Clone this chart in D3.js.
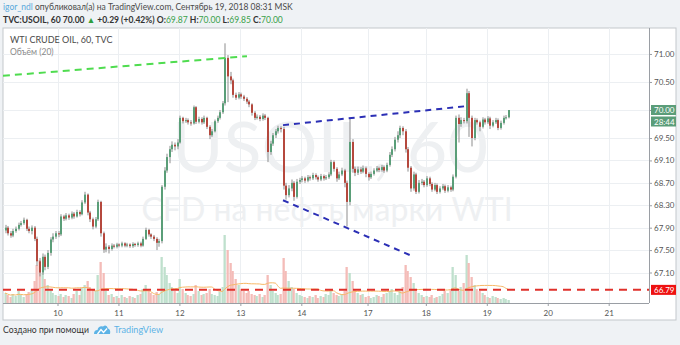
<!DOCTYPE html>
<html><head><meta charset="utf-8">
<script src="https://cdn.jsdelivr.net/npm/d3@7"></script>
<style>
html,body{margin:0;padding:0;background:#eff2f5;}
svg{display:block;font-family:Lato,"Open Sans",sans-serif;}
</style></head><body>
<svg id="c" width="680" height="345"></svg>
<script>
// ---------- data ----------
const dayLabels = ["10","11","12","13","14","17","18","19","20","21"];
const dayIndex  = [20,43,66,89,112,137,159,182,205,228];
const priceTicks = [71.00,70.50,70.00,69.50,69.10,68.70,68.30,67.90,67.50,67.10];
const priceTickLabels = ["71.00","70.50","","69.50","69.10","68.70","68.30","67.90","67.50","67.10"];

const close = [67.90,67.80,67.76,67.84,67.88,67.95,67.98,68.04,67.88,67.84,
67.90,67.70,67.30,67.10,67.38,67.20,67.45,67.69,67.74,67.80,
67.78,68.10,68.06,68.12,68.08,68.15,68.10,68.18,68.14,68.35,
68.49,68.17,68.05,67.92,68.05,68.36,67.80,67.51,67.56,67.52,
67.58,67.56,67.60,67.58,67.62,67.58,67.60,67.57,67.61,67.59,
67.62,67.58,67.70,67.86,67.78,67.74,67.70,67.63,67.66,68.63,
68.92,69.16,69.30,69.38,69.35,69.42,69.86,69.80,69.82,69.78,
69.76,70.05,69.79,69.84,69.78,69.86,69.70,69.55,69.62,69.80,
69.86,69.96,70.12,70.93,70.60,70.53,70.27,70.22,70.28,70.24,
70.20,70.15,70.10,69.95,69.86,69.88,69.84,69.90,69.86,69.25,
69.40,69.55,69.62,69.68,69.66,68.65,68.48,68.60,68.70,68.45,
68.72,68.75,68.78,68.74,68.80,68.78,68.84,68.80,68.76,68.82,
68.78,68.80,68.85,69.07,68.95,68.78,68.85,68.92,68.70,68.36,
69.43,68.95,68.88,68.94,68.90,68.96,68.86,68.80,68.86,68.92,
68.96,68.93,68.98,68.92,69.02,69.20,69.30,69.47,69.55,69.68,
69.62,69.30,68.97,68.60,68.85,68.54,68.70,68.72,68.66,68.78,
68.68,68.58,68.66,68.54,68.60,68.64,68.56,68.62,68.58,68.81,
69.86,69.75,69.82,69.80,70.30,69.86,69.50,69.82,69.78,69.70,
69.83,69.78,69.85,69.72,69.78,69.82,69.68,69.77,69.86,69.87,
70.00];

const open = [67.85,67.90,67.80,67.76,67.84,67.88,67.95,67.98,68.04,67.88,
67.84,67.90,67.70,67.30,67.10,67.38,67.20,67.45,67.69,67.74,
67.80,67.78,68.10,68.06,68.12,68.08,68.15,68.10,68.18,68.14,
68.35,68.49,68.17,68.05,67.92,68.05,68.36,67.80,67.51,67.56,
67.52,67.58,67.56,67.60,67.58,67.62,67.58,67.60,67.57,67.61,
67.59,67.62,67.58,67.70,67.86,67.78,67.74,67.70,67.63,67.66,
68.63,68.92,69.16,69.30,69.38,69.35,69.42,69.86,69.80,69.82,
69.78,69.76,70.05,69.79,69.84,69.78,69.86,69.70,69.55,69.62,
69.80,69.86,69.96,70.12,70.93,70.60,70.53,70.27,70.22,70.28,
70.24,70.20,70.15,70.10,69.95,69.86,69.88,69.84,69.90,69.86,
69.25,69.40,69.55,69.62,69.68,69.66,68.65,68.48,68.60,68.70,
68.45,68.72,68.75,68.78,68.74,68.80,68.78,68.84,68.80,68.76,
68.82,68.78,68.80,68.85,69.07,68.95,68.78,68.85,68.92,68.70,
68.36,69.43,68.95,68.88,68.94,68.90,68.96,68.86,68.80,68.86,
68.92,68.96,68.93,68.98,68.92,69.02,69.20,69.30,69.47,69.55,
69.68,69.62,69.30,68.97,68.60,68.85,68.54,68.70,68.72,68.66,
68.78,68.68,68.58,68.66,68.54,68.60,68.64,68.56,68.62,68.58,
68.81,69.86,69.75,69.82,69.80,70.30,69.86,69.50,69.82,69.78,
69.70,69.83,69.78,69.85,69.72,69.78,69.82,69.68,69.77,69.86,
69.87];

const high = [67.95,67.93,67.84,67.88,67.92,67.99,68.02,68.08,68.06,67.92,
67.94,67.93,67.74,67.36,67.44,67.42,67.50,67.73,67.80,67.84,
67.84,68.14,68.13,68.16,68.15,68.19,68.18,68.22,68.21,68.39,
68.54,68.51,68.20,68.08,68.09,68.40,68.38,67.83,67.62,67.59,
67.62,67.61,67.63,67.62,67.65,67.64,67.63,67.62,67.64,67.63,
67.65,67.65,67.74,67.90,67.88,67.80,67.77,67.73,67.70,68.66,
68.98,69.22,69.36,69.44,69.42,69.48,69.90,69.88,69.86,69.85,
69.82,70.08,70.07,69.88,69.87,69.90,69.88,69.73,69.66,69.83,
69.90,70.00,70.16,71.19,70.98,70.68,70.56,70.31,70.32,70.31,
70.27,70.23,70.18,70.12,69.98,69.92,69.91,69.94,69.93,69.88,
69.45,69.59,69.66,69.72,69.71,69.70,68.70,68.66,68.76,68.73,
68.77,68.79,68.82,68.81,68.84,68.83,68.88,68.87,68.83,68.86,
68.85,68.84,68.89,69.11,69.10,68.98,68.90,68.97,68.95,68.74,
69.86,69.48,68.99,68.99,68.98,69.01,68.99,68.89,68.90,68.96,
69.00,68.99,69.02,69.01,69.06,69.25,69.35,69.52,69.62,69.72,
69.71,69.66,69.34,69.00,68.90,68.88,68.75,68.77,68.75,68.82,
68.81,68.71,68.70,68.69,68.64,68.68,68.67,68.66,68.65,68.85,
69.90,69.92,69.87,69.86,70.38,70.34,69.90,69.86,69.85,69.81,
69.87,69.86,69.89,69.88,69.82,69.86,69.85,69.81,69.90,69.91,
70.00];

const low = [67.80,67.76,67.72,67.73,67.81,67.85,67.92,67.95,67.84,67.80,
67.78,67.66,67.22,67.03,67.06,67.14,67.16,67.40,67.64,67.70,
67.73,67.75,68.02,68.03,68.04,68.05,68.06,68.08,68.10,68.12,
68.32,68.12,68.00,67.87,67.89,68.02,67.74,67.45,67.46,67.44,
67.49,67.53,67.53,67.55,67.55,67.55,67.55,67.54,67.54,67.56,
67.56,67.55,67.56,67.68,67.74,67.70,67.66,67.50,67.56,67.62,
68.58,68.88,69.05,69.25,69.28,69.30,69.40,69.76,69.77,69.74,
69.72,69.74,69.75,69.76,69.74,69.75,69.66,69.48,69.52,69.60,
69.77,69.83,69.93,70.08,70.14,70.46,70.22,70.18,70.19,70.20,
70.16,70.11,70.05,69.90,69.82,69.83,69.80,69.81,69.82,69.07,
69.20,69.36,69.50,69.58,69.60,68.58,68.40,68.44,68.55,68.38,
68.42,68.68,68.71,68.70,68.71,68.74,68.75,68.76,68.72,68.73,
68.74,68.75,68.77,68.82,68.90,68.72,68.75,68.82,68.62,67.92,
68.30,68.88,68.82,68.84,68.86,68.87,68.80,68.74,68.77,68.83,
68.89,68.89,68.90,68.88,68.89,68.99,69.16,69.26,69.42,69.50,
69.55,69.24,68.90,68.54,68.56,68.50,68.51,68.66,68.62,68.63,
68.64,68.54,68.55,68.50,68.51,68.57,68.52,68.53,68.54,68.55,
68.78,69.42,69.70,69.76,69.76,69.52,69.35,69.46,69.74,69.62,
69.67,69.74,69.75,69.66,69.69,69.75,69.64,69.65,69.74,69.83,
69.85];

const volume = [10,8,6,9,7,12,8,6,9,11,14,22,
38,43,30,24,18,14,
10,8,7,9,6,8,7,5,9,12,8,15,18,
22,16,14,12,28,41,30,
12,8,9,6,7,5,8,6,5,7,6,5,8,
9,14,18,12,10,8,11,9,
46,36,28,20,16,12,10,24,
14,10,8,7,9,18,12,8,9,10,14,9,8,7,11,16,
68,53,40,32,24,18,14,12,
10,12,9,8,7,9,6,8,
28,18,12,10,8,9,
45,32,22,16,14,10,8,7,
6,5,7,6,8,5,7,6,9,8,14,10,8,7,9,12,
36,30,22,14,10,8,9,
6,7,5,6,8,7,6,9,10,12,14,10,8,12,16,
38,32,26,20,14,10,8,6,
7,6,8,5,6,7,9,12,10,14,
36,28,12,16,20,48,40,26,
18,14,12,10,8,6,5,7,6,5,4,5,4,3];

const supportLevel = 66.79;
const greenLine = [[-0.6,70.61],[91.5,70.96]];
const blueUpper = [[105.1,69.73],[174.5,70.07]];
const blueLower = [[105.1,68.39],[153.0,67.41]];
const lastPrice = 70.00;
const countdown = "28:44";

// ---------- layout ----------
const svg = d3.select("#c");
const P = {left:3, top:28, right:649, bottom:303, panelRight:676, panelBottom:320};

const x = d3.scaleLinear().domain([0,240]).range([4.5, 4.5+240*2.65]);
const y = d3.scaleLinear().domain([67.10,70.00]).range([272.5,110]);
const vy = d3.scaleLinear().domain([0,68]).range([P.bottom, P.bottom-68]);

function fit(sel, target){
  const fs = parseFloat(sel.attr("font-size"));
  const w = sel.node().getComputedTextLength();
  if (w > 0) sel.attr("font-size", (fs*target/w).toFixed(2));
  return sel;
}

// header
const t1 = svg.append("text").attr("x",3).attr("y",10).attr("font-size",9).attr("fill","#4a4a4a");
t1.append("tspan").attr("fill","#5aa9dc").text("igor_ndl");
t1.append("tspan").text(" опубликовал(а) на TradingView.com, Сентябрь 19, 2018 08:31 MSK");
fit(t1, 290);
const t2 = svg.append("text").attr("x",3).attr("y",23).attr("font-size",9).attr("fill","#333").attr("font-weight",700);
t2.append("tspan").text("TVC:USOIL, 60 ");
t2.append("tspan").text("70.00 ");
t2.append("tspan").attr("fill","#2e9e3c").text("▲");
t2.append("tspan").text(" +0.29 (+0.42%) ");
const ohlc = [["O:","69.87"],[" H:","70.00"],[" L:","69.85"],[" C:","70.00"]];
ohlc.forEach(([k,v])=>{
  t2.append("tspan").text(k);
  t2.append("tspan").attr("font-weight",400).attr("fill","#3aa14a").text(v);
});
fit(t2, 280);

// panel
svg.append("rect").attr("x",P.left).attr("y",P.top).attr("width",P.panelRight-P.left).attr("height",P.panelBottom-P.top)
  .attr("fill","#fff").attr("stroke","#c3c7cc");

// grid
const grid = svg.append("g");
grid.selectAll("line.h").data(priceTicks).join("line")
  .attr("x1",P.left).attr("x2",P.right)
  .attr("y1",d=>Math.round(y(d))+0.5).attr("y2",d=>Math.round(y(d))+0.5)
  .attr("stroke","#eceff2");
grid.selectAll("line.v").data(dayIndex).join("line")
  .attr("x1",d=>Math.round(x(d))+0.5).attr("x2",d=>Math.round(x(d))+0.5)
  .attr("y1",P.top).attr("y2",P.bottom).attr("stroke","#eceff2");

// watermark
svg.append("text").attr("x",330).attr("y",172).attr("text-anchor","middle")
  .attr("font-size",70).attr("fill","#eef0f2").text("USOIL, 60");
svg.append("text").attr("x",327).attr("y",221).attr("text-anchor","middle")
  .attr("font-size",32).attr("fill","#eef0f2").text("CFD на нефть марки WTI");

// clip
svg.append("clipPath").attr("id","pc").append("rect")
  .attr("x",P.left).attr("y",P.top).attr("width",P.right-P.left).attr("height",P.bottom-P.top);
const plot = svg.append("g").attr("clip-path","url(#pc)");

const bars = close.map((c,i)=>({i,o:open[i],h:high[i],l:low[i],c,v:volume[i]}));
const upC="#5a9e78", dnC="#b5483d";

// volume
plot.append("g").selectAll("rect").data(bars).join("rect")
  .attr("x",d=>Math.round(x(d.i))-0.5).attr("width",2.3)
  .attr("y",d=>vy(d.v)).attr("height",d=>P.bottom-vy(d.v))
  .attr("fill",d=>d.c>=d.o?"#bfe0cd":"#f4bcb8");
// volume MA(20)
const ma = bars.map((d,i)=>{const s=bars.slice(Math.max(0,i-19),i+1);return {i, v:d3.mean(s,e=>e.v)};});
plot.append("path").datum(ma).attr("fill","none").attr("stroke","#f7b866").attr("stroke-width",1)
  .attr("d",d3.line().x(d=>x(d.i)+0.5).y(d=>vy(d.v)).curve(d3.curveMonotoneX));

// support line
plot.append("line").attr("x1",P.left).attr("x2",P.right)
  .attr("y1",y(supportLevel)).attr("y2",y(supportLevel))
  .attr("stroke","#e0312b").attr("stroke-width",2).attr("stroke-dasharray","8,6");

// candles
const cg = plot.append("g");
cg.selectAll("line").data(bars).join("line")
  .attr("x1",d=>Math.round(x(d.i))+1).attr("x2",d=>Math.round(x(d.i))+1)
  .attr("y1",d=>y(d.h)).attr("y2",d=>y(d.l))
  .attr("stroke","#8d8d8d").attr("stroke-width",1);
cg.selectAll("rect").data(bars).join("rect")
  .attr("x",d=>Math.round(x(d.i))).attr("width",2)
  .attr("y",d=>y(Math.max(d.o,d.c)))
  .attr("height",d=>Math.max(1,Math.abs(y(d.o)-y(d.c))))
  .attr("fill",d=>d.c>=d.o?upC:dnC);

// trend lines
const tl = d3.line().x(d=>x(d[0])).y(d=>y(d[1]));
plot.append("path").attr("d",tl(greenLine)).attr("stroke","#4fdc4f").attr("stroke-width",2)
  .attr("stroke-dasharray","7,5").attr("fill","none");
plot.append("path").attr("d",tl(blueUpper)).attr("stroke","#2b2fb5").attr("stroke-width",2)
  .attr("stroke-dasharray","6,5").attr("fill","none");
plot.append("path").attr("d",tl(blueLower)).attr("stroke","#2b2fb5").attr("stroke-width",2)
  .attr("stroke-dasharray","6,5").attr("fill","none");

// legend
svg.append("text").attr("x",10).attr("y",43).attr("font-size",9).attr("fill","#4a4a4a").text("WTI CRUDE OIL, 60, TVC");
svg.append("text").attr("x",10).attr("y",55).attr("font-size",8.5).attr("fill","#8a8a8a").text("Объём (20)");

// plot borders
svg.append("line").attr("x1",P.right+0.5).attr("x2",P.right+0.5).attr("y1",P.top).attr("y2",P.bottom).attr("stroke","#9a9ea4");
svg.append("line").attr("x1",P.left).attr("x2",P.right).attr("y1",P.bottom+0.5).attr("y2",P.bottom+0.5).attr("stroke","#9a9ea4");

// axes
const ya = svg.append("g").attr("transform",`translate(${P.right},0)`)
  .call(d3.axisRight(y).tickValues(priceTicks).tickSize(3).tickFormat((d,i)=>priceTickLabels[i]));
ya.select(".domain").remove();
ya.selectAll("line").attr("stroke","#9a9ea4");
ya.selectAll("text").attr("font-size",8).attr("fill","#555").attr("x",5).attr("font-family","Lato,sans-serif");

const xa = svg.append("g").attr("transform",`translate(0,${P.bottom})`)
  .call(d3.axisBottom(x).tickValues(dayIndex).tickSize(3).tickFormat((d,i)=>dayLabels[i]));
xa.select(".domain").remove();
xa.selectAll("line").attr("stroke","#9a9ea4");
xa.selectAll("text").attr("font-size",8).attr("fill","#555").attr("dy","0.9em").attr("font-family","Lato,sans-serif");

// price labels
function tag(py, txt, fill){
  const g = svg.append("g");
  g.append("rect").attr("x",P.right+2).attr("y",py-5).attr("width",25).attr("height",10).attr("fill",fill);
  g.append("text").attr("x",P.right+5).attr("y",py+3).attr("font-size",8).attr("fill","#fff").text(txt);
}
tag(y(lastPrice), d3.format(".2f")(lastPrice), "#5b9d79");
tag(y(lastPrice)+11.5, countdown, "#5b9d79");
tag(y(supportLevel), d3.format(".2f")(supportLevel), "#ee1111");

// footer
const ft = svg.append("g");
const ftxt = ft.append("text").attr("x",3).attr("y",333).attr("font-size",9).attr("fill","#333").text("Создано при помощи");
fit(ftxt, 86);
const logo = ft.append("g").attr("transform","translate(94,324)");
logo.append("path").attr("d","M0,10 Q0,6 3.5,6 Q4.5,1.5 9,2.5 Q12.5,0 14,4.5 Q17,5.5 16,10 Z").attr("fill","#5cb3e6");
logo.append("path").attr("d","M3.5,10 L7,5.5 L9.5,8.5 L13,4.5").attr("stroke","#fff").attr("stroke-width",1.3).attr("fill","none");
const ftv = ft.append("text").attr("x",114).attr("y",333).attr("font-size",9).attr("fill","#5cb3e6").text("TradingView");
fit(ftv, 49);
</script>
</body></html>
